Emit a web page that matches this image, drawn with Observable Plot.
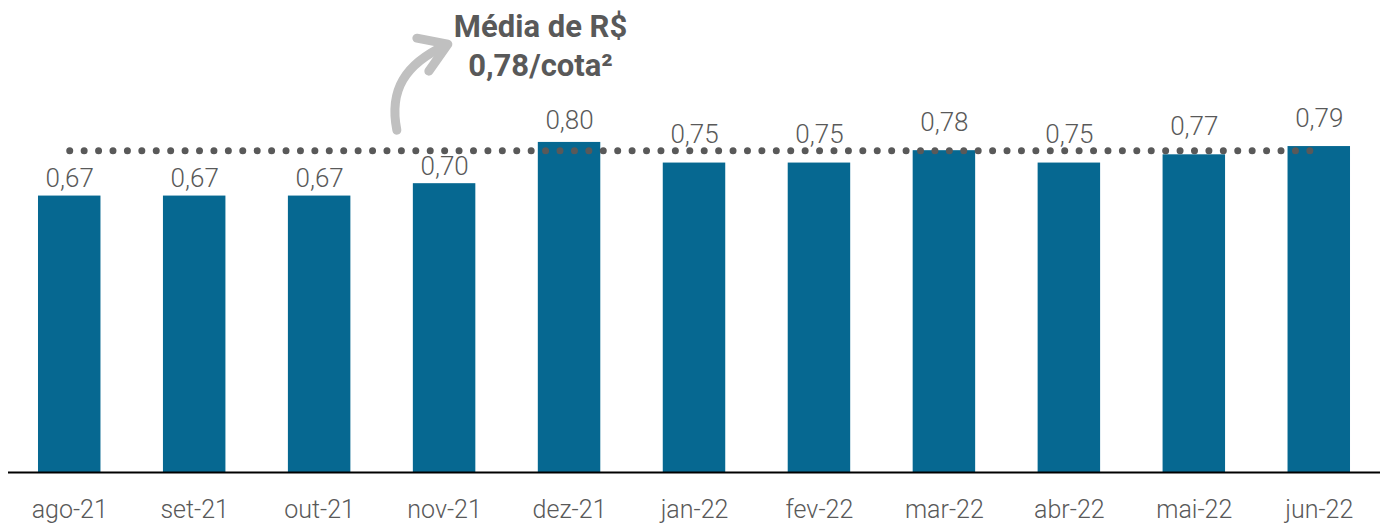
<!DOCTYPE html>
<html><head><meta charset="utf-8">
<script src="https://cdn.jsdelivr.net/npm/d3@7"></script>
<script src="https://cdn.jsdelivr.net/npm/@observablehq/plot@0.6"></script>
<style>body{margin:0;background:#fff} #chart{width:1386px;height:524px}</style>
</head><body><div id="chart"></div>
<script>
const months = ["ago-21","set-21","out-21","nov-21","dez-21","jan-22","fev-22","mar-22","abr-22","mai-22","jun-22"];
const values = [0.67,0.67,0.67,0.70,0.80,0.75,0.75,0.78,0.75,0.77,0.79];
const average = 0.78;
const averageLabel = "Média de R$\n0,78/cota²";

const data = months.map((m, i) => ({month: m, value: values[i]}));
const avgLine = [{month: months[0], value: average}, {month: months[months.length - 1], value: average}];
const fmt = v => v.toFixed(2).replace(".", ",");

const barColor = "#066891";
const textColor = "#595959";

// labels of bars close to the average line are lifted above the dotted line
const nearAvg = d => d.value >= average - 0.04 && d.value <= average + 0.01;
const tallBar = d => d.value > average + 0.01;

// curved annotation arrow, anchored on the nov-21 band and the average line
function arrowMark(index, scales) {
  const ax = scales.x("nov-21");
  const ay = scales.y(average);
  const g = d3.create("svg:g")
    .attr("fill", "none")
    .attr("stroke", "#c0c0c0")
    .attr("stroke-width", 9)
    .attr("stroke-linecap", "round")
    .attr("stroke-linejoin", "round");
  g.append("path").attr("d",
    `M${ax - 16},${ay - 20} C${ax - 24},${ay - 60} ${ax - 8},${ay - 86} ${ax + 33},${ay - 105}`);
  g.append("path").attr("d",
    `M${ax + 4},${ay - 112} L${ax + 35},${ay - 106} L${ax + 16},${ay - 79}`);
  return g.node();
}

const chart = Plot.plot({
  width: 1386,
  height: 524,
  marginTop: 0,
  marginBottom: 52,
  marginLeft: 8,
  marginRight: 6,
  style: {fontFamily: "Roboto", background: "#fff"},
  x: {domain: months, paddingInner: 0.5, paddingOuter: 0.24, round: false, label: null},
  y: {domain: [0, 1.144], axis: null},
  marks: [
    Plot.barY(data, {x: "month", y: "value", fill: barColor}),
    Plot.ruleY([0], {stroke: "#000", strokeWidth: 2}),
    Plot.lineY(avgLine, {x: "month", y: "value", stroke: "#595959", strokeWidth: 7,
      strokeLinecap: "round", strokeDasharray: "0 14.42"}),
    Plot.text(data.filter(d => !nearAvg(d) && !tallBar(d)), {x: "month", y: "value",
      text: d => fmt(d.value), dy: -9, lineAnchor: "bottom", fill: textColor, fontSize: 26, fontWeight: 300}),
    Plot.text(data.filter(nearAvg), {x: "month", y: "value",
      text: d => fmt(d.value), dy: -20, lineAnchor: "bottom", fill: textColor, fontSize: 26, fontWeight: 300}),
    Plot.text(data.filter(tallBar), {x: "month", y: "value",
      text: d => fmt(d.value), dy: -13, lineAnchor: "bottom", fill: textColor, fontSize: 26, fontWeight: 300}),
    Plot.axisX({tickSize: 0, tickPadding: 28, fontSize: 25, fontWeight: 300, color: textColor}),
    Plot.text([averageLabel], {x: () => "dez-21", dx: -29, frameAnchor: "top", dy: 8,
      lineAnchor: "top", lineHeight: 1.28, fill: textColor, fontSize: 31, fontWeight: 700,
      fontFamily: "Roboto"}),
    arrowMark
  ]
});
document.getElementById("chart").appendChild(chart);
</script>
</body></html>
